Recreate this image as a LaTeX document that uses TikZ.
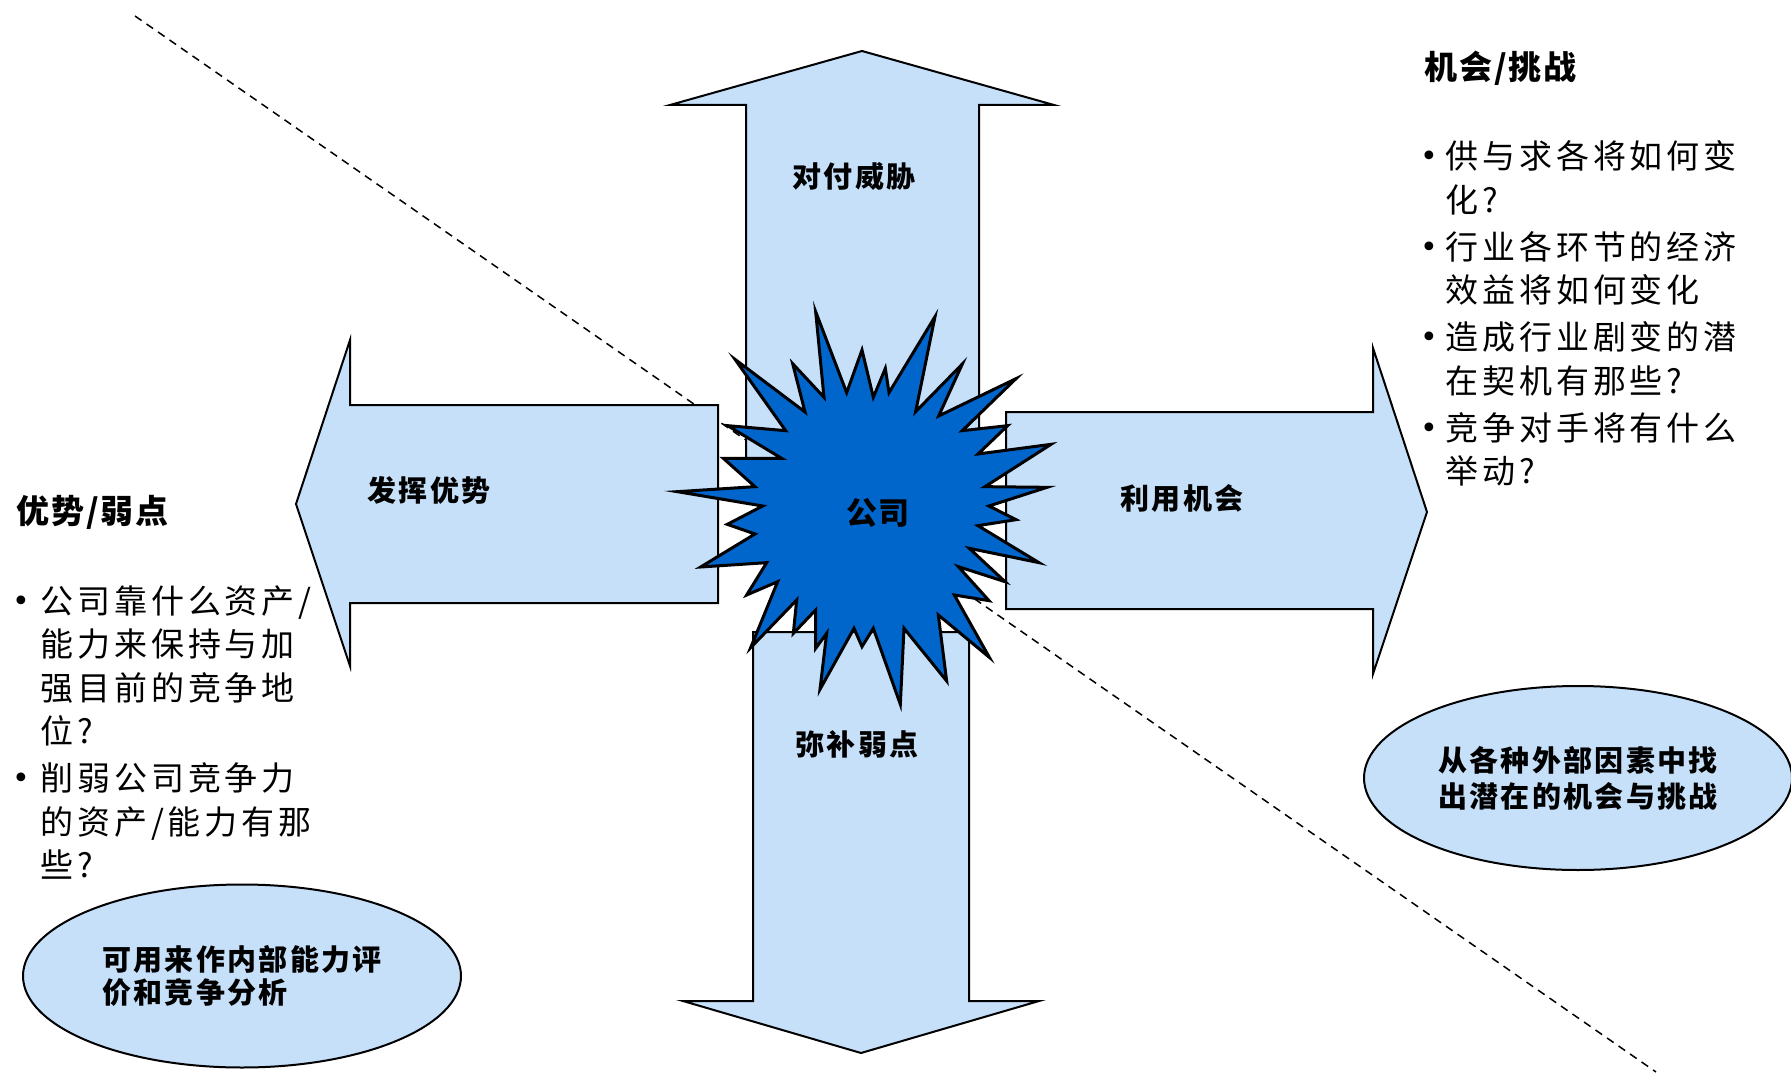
\documentclass[tikz,border=0pt]{standalone}
\usepackage{fontspec}
\setmainfont{Noto Sans CJK SC}
\newfontfamily\cjkls{Noto Sans CJK SC}[LetterSpace=12]
\newfontfamily\cjklab{Noto Sans CJK SC}[LetterSpace=8]
\newfontfamily\cjktitle{Noto Sans CJK SC}[LetterSpace=6]
\newfontfamily\dejavu{DejaVu Sans}
\usetikzlibrary{shapes.geometric}
\definecolor{lightblue}{RGB}{198,224,250}
\definecolor{starblue}{RGB}{0,102,204}
\newcommand{\mybul}[1]{\makebox[#1][l]{\raisebox{2pt}{\dejavu\fontsize{30}{30}\selectfont •}}}
\tikzset{
  arrowshape/.style={fill=lightblue, draw=black, line width=2pt},
  starshape/.style={fill=starblue, draw=black, line width=3pt},
  divider/.style={draw=black, line width=1.5pt, dash pattern=on 8pt off 6pt},
  armlabel/.style={inner sep=0, font={\cjklab\bfseries\fontsize{29}{30}\selectfont}},
  bullettext/.style={anchor=base west, inner sep=0, font={\cjkls\fontsize{33}{43.5}\selectfont}},
  titletext/.style={anchor=base west, inner sep=0, font={\cjktitle\bfseries\fontsize{33}{33}\selectfont}},
  bubble/.style={ellipse, draw=black, line width=2pt, fill=lightblue, inner sep=0, align=left}
}
\begin{document}
\begin{tikzpicture}[x=1pt, y=-1pt]
\useasboundingbox (0,0) rectangle (1791,1078);
\fill[white] (0,0) rectangle (1791,1078);

% dashed diagonal
\coordinate (d1) at (135,16);
\coordinate (d2) at (1656,1072);
\draw[divider] (d1) -- (d2);

% up arrow
\draw[arrowshape] (746,458) -- (746,105) -- (670,105) -- (862,51) -- (1054,105) -- (979,105) -- (979,458) -- cycle;
% down arrow
\draw[arrowshape] (753,632) -- (753,1001) -- (683,1001) -- (861,1053) -- (1039,1001) -- (969,1001) -- (969,632) -- cycle;
% left arrow
\draw[arrowshape] (718,405) -- (350,405) -- (350,340) -- (296,504) -- (350,666) -- (350,603) -- (718,603) -- cycle;
% right arrow
\draw[arrowshape] (1006,412) -- (1373,412) -- (1373,348) -- (1427,512) -- (1373,674) -- (1373,609) -- (1006,609) -- cycle;

% star
\begin{scope}[shift={(650,280)}, x=0.333333pt, y=-0.333333pt]
\draw[starshape] (497,95) -- (590,338) -- (636,210) -- (670,352) -- (706,265) -- (717,338)
 -- (855,110) -- (797,395) -- (937,252) -- (866,408) -- (1098,296) -- (937,452)
 -- (1073,437) -- (984,522) -- (1203,493) -- (1005,620) -- (1191,622) -- (1017,678)
 -- (1098,719) -- (984,737) -- (1167,848) -- (958,805) -- (1065,905) -- (925,860)
 -- (1017,962) -- (913,945) -- (1018,1132) -- (865,1005) -- (890,1203) -- (762,1045)
 -- (751,1273) -- (670,1045) -- (636,1100) -- (612,1045) -- (510,1228) -- (530,1060)
 -- (497,1105) -- (497,990) -- (430,1060) -- (440,960) -- (302,1103) -- (383,905)
 -- (290,945) -- (350,848) -- (152,861) -- (315,762) -- (232,733) -- (338,678)
 -- (82,635) -- (315,620) -- (220,535) -- (395,535) -- (233,437) -- (407,452)
 -- (255,238) -- (465,396) -- (428,251) -- (522,352) -- cycle;
\end{scope}
\node[inner sep=0, font={\cjktitle\bfseries\fontsize{31}{31}\selectfont}] (company) at (878,513) {公司};

% arm labels
\node[armlabel] (threat) at (854,176) {对付威胁};
\node[armlabel] (strength) at (429,490) {发挥优势};
\node[armlabel] (opportunity) at (1182,498) {利用机会};
\node[armlabel] (weakness) at (857,744) {弥补弱点};

% titles
\node[titletext] (octitle) at (1424,80) {机会/挑战};
\node[titletext] (swtitle) at (16,523) {优势/弱点};

% bullet lists
\node[bullettext] (oclist) at (1420,169) {\begin{tabular}[t]{@{}l@{}l@{}}
\mybul{25pt} & 供与求各将如何变\\
 & 化?\\[3.5pt]
\mybul{25pt} & 行业各环节的经济\\
 & 效益将如何变化\\[3.5pt]
\mybul{25pt} & 造成行业剧变的潜\\
 & 在契机有那些?\\[3.5pt]
\mybul{25pt} & 竞争对手将有什么\\
 & 举动?
\end{tabular}};

\node[bullettext] (swlist) at (12,613) {\begin{tabular}[t]{@{}l@{}l@{}}
\mybul{28pt} & 公司靠什么资产/\\
 & 能力来保持与加\\
 & 强目前的竞争地\\
 & 位?\\[3.5pt]
\mybul{28pt} & 削弱公司竞争力\\
 & 的资产/能力有那\\
 & 些?
\end{tabular}};

% ellipses
\node[bubble, minimum width=438pt, minimum height=183pt,
      font={\cjklab\bfseries\fontsize{29}{33}\selectfont}] (internal) at (242,976)
  {可用来作内部能力评\\价和竞争分析};
\node[bubble, minimum width=428pt, minimum height=184pt,
      font={\cjklab\bfseries\fontsize{29}{36}\selectfont}] (external) at (1578,778)
  {从各种外部因素中找\\出潜在的机会与挑战};
\end{tikzpicture}
\end{document}
